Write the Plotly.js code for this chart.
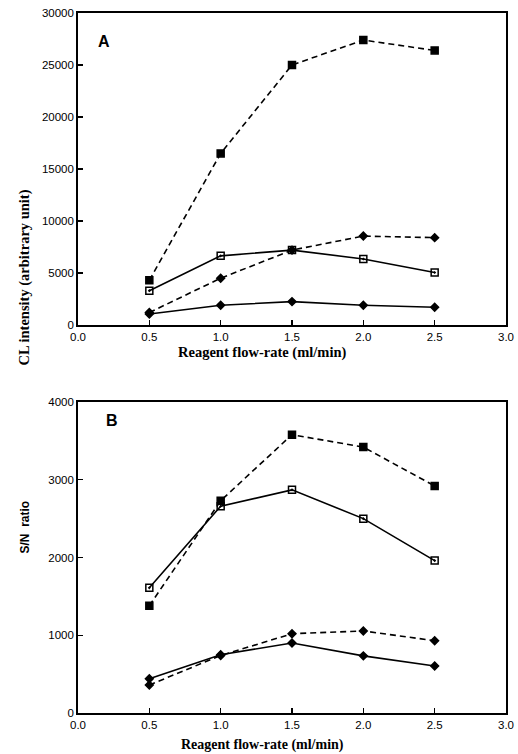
<!DOCTYPE html>
<html>
<head>
<meta charset="utf-8">
<script src="https://cdn.plot.ly/plotly-3.0.1.min.js"></script>
<style>
  html, body { margin: 0; padding: 0; background: #fff; }
  #chart { width: 518px; height: 754px; }
</style>
</head>
<body>
<div id="chart"></div>
<script>
// Reagent flow-rate (ml/min)
const flowRate = [0.5, 1.0, 1.5, 2.0, 2.5];

// Panel A: CL intensity (arbitrary unit)
const clFilledSquare = [4300, 16500, 25000, 27400, 26400];
const clOpenSquare   = [3300, 6650, 7200, 6350, 5050];
const clDashDiamond  = [1200, 4500, 7200, 8550, 8400];
const clSolidDiamond = [1050, 1900, 2250, 1900, 1700];

// Panel B: S/N ratio
const snFilledSquare = [1380, 2730, 3580, 3420, 2920];
const snOpenSquare   = [1610, 2660, 2870, 2500, 1960];
const snDashDiamond  = [360, 740, 1020, 1055, 930];
const snSolidDiamond = [440, 750, 900, 735, 605];

const xTicks = [0, 0.5, 1.0, 1.5, 2.0, 2.5, 3.0];
const xTickText = ['0.0', '0.5', '1.0', '1.5', '2.0', '2.5', '3.0'];
const yTicksA = [0, 5000, 10000, 15000, 20000, 25000, 30000];
const yTicksB = [0, 1000, 2000, 3000, 4000];

const W = 518, H = 754;
const px = v => v / W;
const py = v => 1 - v / H;

const dashed = '6px,4px';

function series(y, xa, ya, dash, symbol, size) {
  return {
    x: flowRate, y: y, xaxis: xa, yaxis: ya,
    type: 'scatter', mode: 'lines+markers',
    line: { color: '#000', width: 1.6, dash: dash },
    marker: { symbol: symbol, size: size, color: '#000',
              line: { color: '#000', width: 1.5 } },
    showlegend: false, cliponaxis: false
  };
}

const traces = [
  series(clFilledSquare, 'x', 'y', dashed, 'square', 7),
  series(clOpenSquare,   'x', 'y', 'solid', 'square-open-dot', 7),
  series(clDashDiamond,  'x', 'y', dashed, 'diamond', 6),
  series(clSolidDiamond, 'x', 'y', 'solid', 'diamond', 6),
  series(snFilledSquare, 'x2', 'y2', dashed, 'square', 7),
  series(snOpenSquare,   'x2', 'y2', 'solid', 'square-open-dot', 7),
  series(snDashDiamond,  'x2', 'y2', dashed, 'diamond', 6),
  series(snSolidDiamond, 'x2', 'y2', 'solid', 'diamond', 6)
];

const tickFont = { family: 'Arial, Liberation Sans, sans-serif', size: 11.5, color: '#000' };

function xAxis(anchor) {
  return {
    anchor: anchor, domain: [px(78), px(506)],
    range: [0, 3], tickvals: xTicks, ticktext: xTickText,
    ticks: 'inside', ticklen: 5, tickwidth: 1.3, tickcolor: '#000',
    showline: true, linecolor: '#000', linewidth: 1.8, mirror: true,
    showgrid: false, zeroline: false, tickfont: tickFont, ticklabelstandoff: 0
  };
}
function yAxis(anchor, dom, max, vals) {
  return {
    anchor: anchor, domain: dom, range: [0, max], tickvals: vals,
    ticktext: vals.map(v => String(v)),
    ticks: 'inside', ticklen: 5, tickwidth: 1.3, tickcolor: '#000',
    showline: true, linecolor: '#000', linewidth: 1.8, mirror: true,
    showgrid: false, zeroline: false, tickfont: tickFont
  };
}

const serifBold = { family: 'Liberation Serif, Times New Roman, serif', size: 14.5, color: '#000' };
const sansBold = { family: 'Arial, Liberation Sans, sans-serif', size: 16, color: '#000' };

const layout = {
  width: W, height: H,
  margin: { l: 0, r: 0, t: 0, b: 0 },
  paper_bgcolor: '#fff', plot_bgcolor: '#fff',
  xaxis: xAxis('y'),
  yaxis: yAxis('x', [py(325), py(13)], 30000, yTicksA),
  xaxis2: xAxis('y2'),
  yaxis2: yAxis('x2', [py(713), py(402)], 4000, yTicksB),
  annotations: [
    { text: '<b>A</b>', x: px(96), y: py(31), xref: 'paper', yref: 'paper',
      showarrow: false, font: sansBold },
    { text: '<b>B</b>', x: px(104), y: py(421), xref: 'paper', yref: 'paper',
      showarrow: false, font: sansBold },
    { text: '<b>CL intensity (arbitrary unit)</b>', x: px(13), y: py(188),
      xref: 'paper', yref: 'paper', textangle: -90, showarrow: false, font: serifBold },
    { text: '<b>S/N  ratio</b>', x: px(15), y: py(556),
      xref: 'paper', yref: 'paper', textangle: -90, showarrow: false,
      font: { family: 'Arial, Liberation Sans, sans-serif', size: 12, color: '#000' } },
    { text: '<b>Reagent flow-rate (ml/min)</b>', x: px(262), y: py(352),
      xref: 'paper', yref: 'paper', showarrow: false, font: serifBold },
    { text: '<b>Reagent flow-rate (ml/min)</b>', x: px(262), y: 0, yanchor: 'bottom',
      borderpad: 0, xref: 'paper', yref: 'paper', showarrow: false,
      font: { family: 'Liberation Serif, Times New Roman, serif', size: 14, color: '#000' } }
  ]
};

Plotly.newPlot('chart', traces, layout, { staticPlot: true, displayModeBar: false });
</script>
</body>
</html>
